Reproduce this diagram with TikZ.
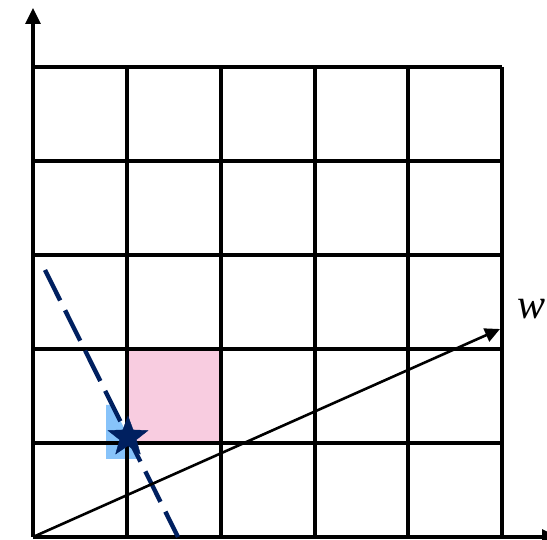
\documentclass[tikz,border=0pt]{standalone}
\usepackage{fontspec}
\newfontfamily\wfont{Liberation Serif}
\usetikzlibrary{arrows.meta,shapes.geometric}
\definecolor{navy}{RGB}{0,32,96}
\definecolor{pinkcell}{RGB}{248,204,224}
\definecolor{bluepatch}{RGB}{135,195,250}
\tikzset{
  gridline/.style={line width=3.2pt,black},
  axisline/.style={line width=3.2pt,black,-{Triangle[length=16pt,width=15pt]}},
  vecline/.style={line width=2.6pt,black,-{Triangle[length=15pt,width=14pt]}},
  dashline/.style={line width=4.4pt,navy,dash pattern=on 34pt off 11pt},
  wlabel/.style={inner sep=0pt,scale=4.2,transform shape},
}
\begin{document}
\begin{tikzpicture}[x=1pt,y=-1pt]
\useasboundingbox (0,0) rectangle (547,540);
% shaded regions
\fill[pinkcell] (127,349) rectangle (221,443);
\fill[bluepatch] (106,405) -- (106,459) -- (139.5,459) -- (112.5,405) -- cycle;
% grid
\foreach \x in {127,221,315,408,502} \draw[gridline] (\x,67) -- (\x,537);
\foreach \y in {67,161,255,349,443} \draw[gridline] (33,\y) -- (502,\y);
% axes
\coordinate (O) at (33,537);
\coordinate (ytip) at (33,8);
\coordinate (xtip) at (558,537);
\draw[axisline] (O) -- (ytip);
\draw[axisline] (O) -- (xtip);
% dashed line
\coordinate (d1) at (45,270);
\coordinate (d2) at (178,537);
\draw[dashline] (d1) -- (d2);
% vector w
\coordinate (wtip) at (500,329);
\draw[vecline] (O) -- (wtip);
\node[wlabel] (wlab) at (532,309) {\wfont\itshape w};
% star
\node[star,star points=5,star point ratio=2.4,fill=navy,draw=navy,inner sep=0pt,minimum size=42pt] (st) at (128,437) {};
\end{tikzpicture}
\end{document}
